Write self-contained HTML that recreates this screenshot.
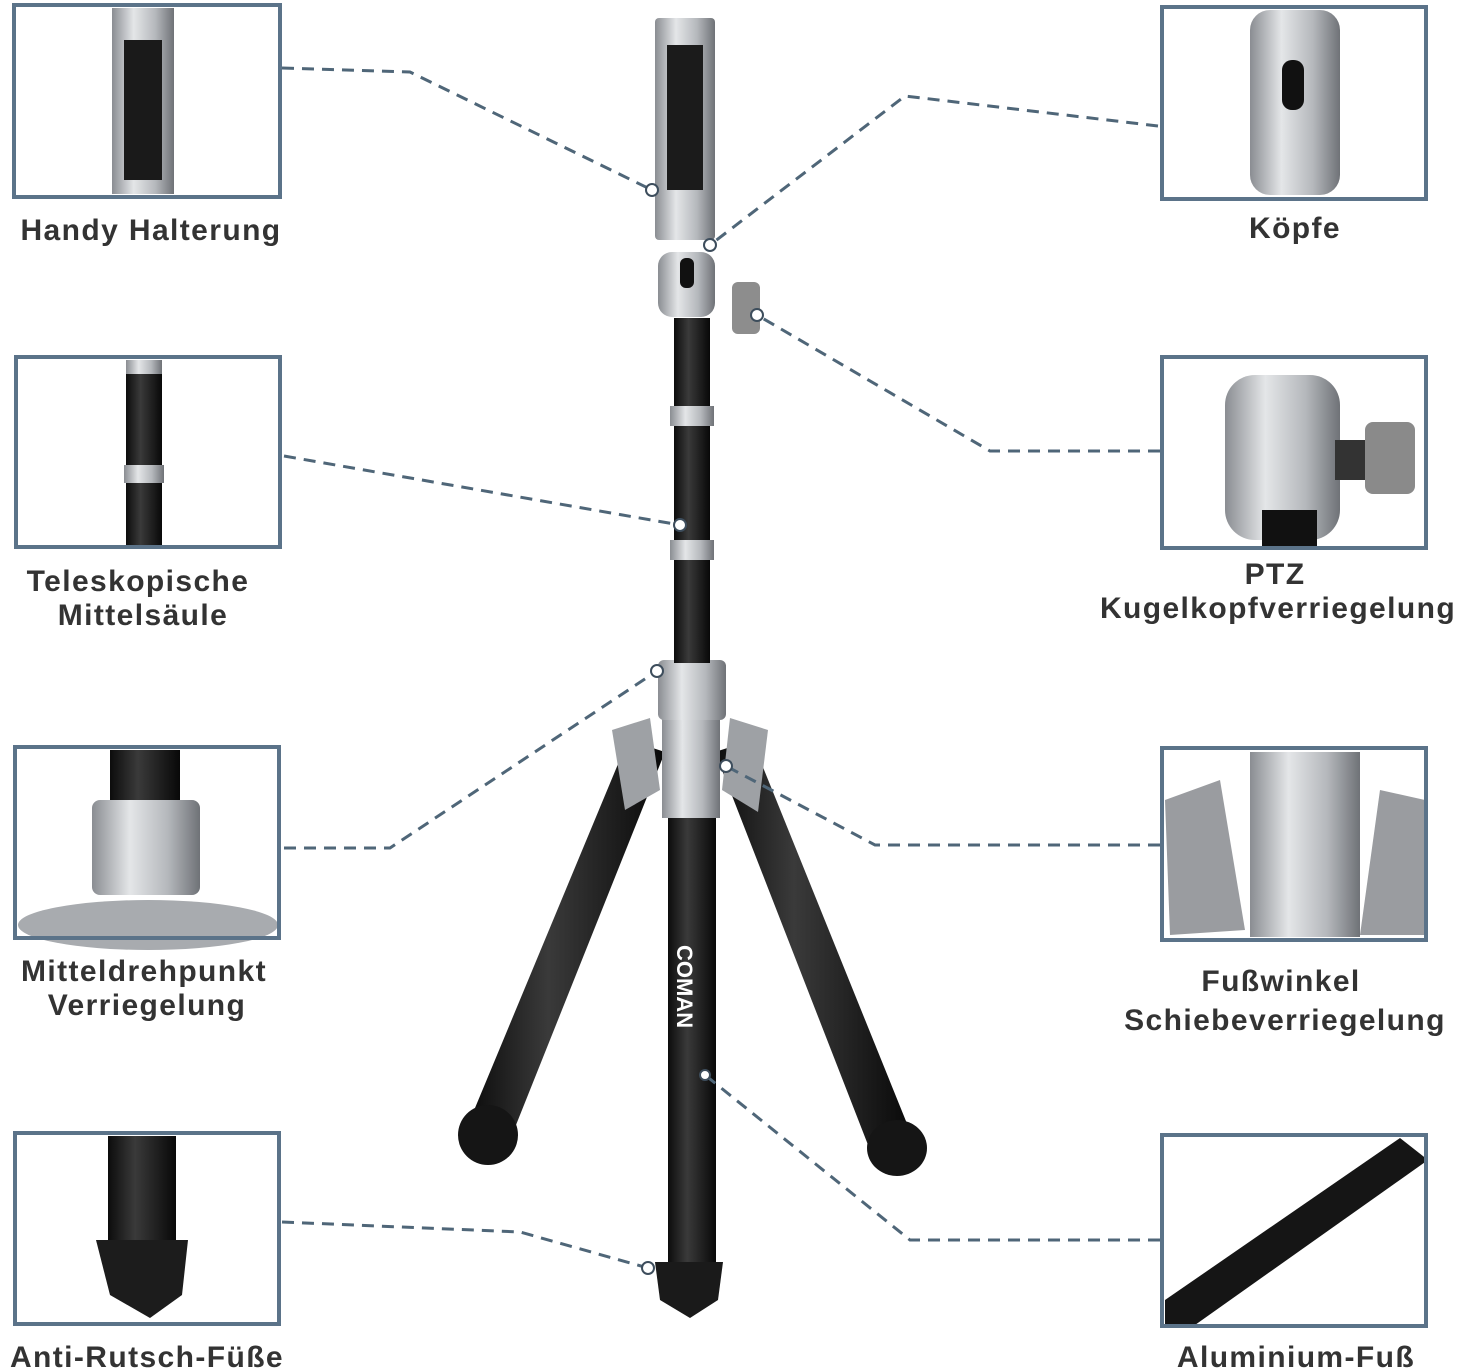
<!DOCTYPE html>
<html><head><meta charset="utf-8"><style>
body{margin:0;background:#fff;}
svg{display:block}
text{font-family:"Liberation Sans",sans-serif;font-weight:bold;fill:#333;font-size:30px;letter-spacing:1.4px}
</style></head><body>
<svg width="1470" height="1370" viewBox="0 0 1470 1370" xmlns="http://www.w3.org/2000/svg">
<defs>
<linearGradient id="met" x1="0" x2="1"><stop offset="0" stop-color="#8a8d92"/><stop offset="0.35" stop-color="#e4e6e8"/><stop offset="0.7" stop-color="#b5b8bc"/><stop offset="1" stop-color="#6f7277"/></linearGradient>
<linearGradient id="blk" x1="0" x2="1"><stop offset="0" stop-color="#0c0c0c"/><stop offset="0.4" stop-color="#3a3a3a"/><stop offset="1" stop-color="#080808"/></linearGradient>
</defs>
<g>
<rect x="112" y="8" width="62" height="186" fill="url(#met)"/><rect x="124" y="40" width="38" height="140" fill="#1a1a1a"/>
<rect x="126" y="360" width="36" height="185" fill="url(#blk)"/><rect x="124" y="465" width="40" height="18" fill="url(#met)"/><rect x="126" y="360" width="36" height="14" fill="url(#met)"/>
<rect x="110" y="750" width="70" height="60" fill="url(#blk)"/><rect x="92" y="800" width="108" height="95" rx="8" fill="url(#met)"/><ellipse cx="148" cy="925" rx="130" ry="25" fill="#a8abaf"/>
<rect x="108" y="1136" width="68" height="110" fill="url(#blk)"/><path d="M96 1240 L188 1240 L182 1295 L150 1318 L110 1295 Z" fill="#1c1c1c"/>
<rect x="1250" y="10" width="90" height="185" rx="20" fill="url(#met)"/><rect x="1282" y="60" width="22" height="50" rx="10" fill="#111"/>
<rect x="1225" y="375" width="115" height="165" rx="30" fill="url(#met)"/><rect x="1262" y="510" width="55" height="40" fill="#111"/><rect x="1335" y="440" width="40" height="40" fill="#333"/><rect x="1365" y="422" width="50" height="72" rx="8" fill="#8a8a8a"/>
<rect x="1250" y="752" width="110" height="185" fill="url(#met)"/><path d="M1165 800 L1220 780 L1245 930 L1170 935 Z" fill="#9a9ca0"/><path d="M1380 790 L1425 800 L1425 935 L1360 935 Z" fill="#9a9ca0"/>
<path d="M1165 1300 L1400 1138 L1428 1160 L1195 1325 L1165 1325 Z" fill="#151515"/>
</g>
<g fill="none" stroke="#5b7389" stroke-width="4">
<rect x="14" y="5" width="266" height="192"/>
<rect x="16" y="357" width="264" height="190"/>
<rect x="15" y="747" width="264" height="191"/>
<rect x="15" y="1133" width="264" height="191"/>
<rect x="1162" y="7" width="264" height="192"/>
<rect x="1162" y="357" width="264" height="191"/>
<rect x="1162" y="748" width="264" height="192"/>
<rect x="1162" y="1135" width="264" height="191"/>
</g>
<g>
<path d="M628 740 L665 752 L512 1135 L470 1120 Z" fill="url(#blk)"/>
<path d="M752 740 L715 752 L870 1150 L912 1136 Z" fill="url(#blk)"/>
<path d="M612 730 L650 718 L660 790 L625 810 Z" fill="#9ea1a5"/>
<path d="M768 730 L730 718 L722 790 L758 812 Z" fill="#9ea1a5"/>
<ellipse cx="488" cy="1135" rx="30" ry="30" fill="#151515"/>
<ellipse cx="897" cy="1148" rx="30" ry="28" fill="#151515"/>
<rect x="668" y="810" width="48" height="460" fill="url(#blk)"/>
<rect x="662" y="718" width="58" height="100" fill="url(#met)"/>
<rect x="658" y="660" width="68" height="60" rx="6" fill="url(#met)"/>
<rect x="674" y="318" width="36" height="345" fill="url(#blk)"/>
<rect x="670" y="406" width="44" height="20" fill="url(#met)"/>
<rect x="670" y="540" width="44" height="20" fill="url(#met)"/>
<path d="M655 1262 L723 1262 L718 1300 L690 1318 L660 1300 Z" fill="#1a1a1a"/>
<rect x="658" y="252" width="57" height="65" rx="14" fill="url(#met)"/>
<rect x="680" y="258" width="14" height="30" rx="6" fill="#111"/>
<rect x="732" y="282" width="28" height="52" rx="6" fill="#8d8d8d"/>
<rect x="655" y="18" width="60" height="222" rx="4" fill="url(#met)"/>
<rect x="667" y="45" width="36" height="145" fill="#1b1b1b"/>
<text x="0" y="0" transform="translate(677,945) rotate(90)" style="fill:#fff;font-size:22px;letter-spacing:0">COMAN</text>
</g>
<g fill="none" stroke="#4f6678" stroke-width="3" stroke-dasharray="12 8">
<polyline points="282,68 410,72 652,190"/>
<polyline points="1158,126 905,96 710,245"/>
<polyline points="1160,451 990,451 757,315"/>
<polyline points="284,456 680,525"/>
<polyline points="284,848 390,848 657,671"/>
<polyline points="1160,845 875,845 726,766"/>
<polyline points="282,1222 520,1232 648,1268"/>
<polyline points="1160,1240 910,1240 705,1075"/>
</g>
<g fill="#fff" stroke="#3d4d5c" stroke-width="2">
<circle cx="652" cy="190" r="6"/><circle cx="710" cy="245" r="6"/><circle cx="757" cy="315" r="6"/><circle cx="680" cy="525" r="6"/>
<circle cx="657" cy="671" r="6"/><circle cx="726" cy="766" r="6"/><circle cx="648" cy="1268" r="6"/><circle cx="705" cy="1075" r="5"/>
</g>
<g text-anchor="middle">
<text x="151" y="240">Handy Halterung</text>
<text x="138" y="591">Teleskopische</text>
<text x="143" y="625">Mittelsäule</text>
<text x="144" y="981">Mitteldrehpunkt</text>
<text x="147" y="1015">Verriegelung</text>
<text x="147" y="1367">Anti-Rutsch-Füße</text>
<text x="1295" y="238">Köpfe</text>
<text x="1275" y="584">PTZ</text>
<text x="1278" y="618">Kugelkopfverriegelung</text>
<text x="1281" y="991">Fußwinkel</text>
<text x="1285" y="1030">Schiebeverriegelung</text>
<text x="1296" y="1367">Aluminium-Fuß</text>
</g>
</svg>
</body></html>
